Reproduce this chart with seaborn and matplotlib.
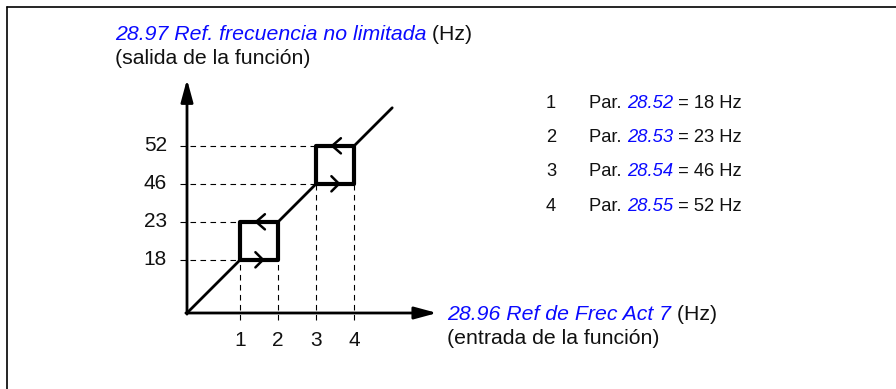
import matplotlib
matplotlib.use("Agg")
import matplotlib.pyplot as plt
import seaborn as sns
import pandas as pd
from matplotlib.lines import Line2D

# --- DATA (schematic positions: both axes share the same spacing) ---
levels = [1.4, 2.4, 3.4, 4.4]          # positions of the 4 limits on each axis
x_labels = ['1', '2', '3', '4']
y_labels = ['18', '23', '46', '52']
param_ids = ['28.52', '28.53', '28.54', '28.55']
param_hz = [18, 23, 46, 52]
curve_end = 5.4
x_axis_end = 6.58
y_axis_end = 6.15

BLUE = '#0a0aff'
W, H = 896, 389
U = 38.0                 # pixels per schematic unit
ORIGIN = (187, 313)      # pixel position of the origin (from top-left)

sns.set_theme(style="white")
plt.rcParams['font.family'] = ['Liberation Sans', 'DejaVu Sans']

fig = plt.figure(figsize=(W / 100, H / 100), dpi=100)
ax = fig.add_axes([0, 0, 1, 1])
ax.set_xlim(-ORIGIN[0] / U, (W - ORIGIN[0]) / U)
ax.set_ylim(-(H - ORIGIN[1]) / U, ORIGIN[1] / U)
ax.axis('off')


def fx(px):
    return px / W


def fy(py):
    return 1 - py / H


# frame (top and left edges only)
fig.add_artist(Line2D([fx(7), 1], [fy(7), fy(7)], color='black', lw=1.2))
fig.add_artist(Line2D([fx(7), fx(7)], [0, fy(7)], color='black', lw=1.2))

# --- dashed guide lines ---
over = 7 / U
for i, lv in enumerate(levels):
    corner = levels[0] if i < 2 else levels[2]
    ax.plot([-over, corner], [lv, lv], color='black', lw=0.8,
            linestyle=(0, (5, 4)))
    ax.plot([lv, lv], [-over, corner], color='black', lw=0.8,
            linestyle=(0, (5, 4)))

# --- diagonal parts of the curve ---
diag = pd.DataFrame({
    'x': [0, levels[0], levels[1], levels[2], levels[3], curve_end],
    'y': [0, levels[0], levels[1], levels[2], levels[3], curve_end],
    'seg': [0, 0, 1, 1, 2, 2],
})
sns.lineplot(data=diag, x='x', y='y', units='seg', estimator=None,
             sort=False, color='black', lw=2, ax=ax, legend=False)

# --- hysteresis squares ---
rows = []
for k, (a, b) in enumerate([(levels[0], levels[1]), (levels[2], levels[3])]):
    for px, py in [(a, a), (b, a), (b, b), (a, b), (a, a)]:
        rows.append({'x': px, 'y': py, 'sq': k})
squares = pd.DataFrame(rows)
sns.lineplot(data=squares, x='x', y='y', units='sq', estimator=None,
             sort=False, color='black', lw=3, ax=ax, legend=False)

# direction chevrons on the square edges
for a, b in [(levels[0], levels[1]), (levels[2], levels[3])]:
    mid = (a + b) / 2
    ax.plot([mid - 0.1, mid + 0.1, mid - 0.1], [a + 0.2, a, a - 0.2],
            color='black', lw=1.8, solid_joinstyle='miter')
    ax.plot([mid + 0.15, mid - 0.08, mid + 0.15], [b + 0.2, b, b - 0.2],
            color='black', lw=1.8, solid_joinstyle='miter')

# --- axes with arrow heads ---
arrow = dict(arrowstyle='-|>,head_length=0.85,head_width=0.23', lw=2,
             color='black', shrinkA=0, shrinkB=0, mutation_scale=16)
ax.annotate('', xy=(x_axis_end, 0), xytext=(-0.03, 0), arrowprops=arrow)
ax.annotate('', xy=(0, y_axis_end), xytext=(0, -0.03), arrowprops=arrow)

# tick labels
for lv, lab in zip(levels, x_labels):
    ax.text(lv, (ORIGIN[1] - 346) / U, lab, ha='center', va='baseline',
            fontsize=15, color='#111111')
for lv, lab in zip(levels, y_labels):
    ax.text(-(ORIGIN[0] - 167) / U, lv, lab, ha='right', va='center',
            fontsize=15, color='#111111')


def rich(x, y, parts, size):
    """parts: list of (text, color, style) placed one after another."""
    txt, col, st = parts[0]
    t = fig.text(x, y, txt, color=col, style=st, fontsize=size,
                 ha='left', va='baseline')
    for txt, col, st in parts[1:]:
        t = ax.annotate(txt, xy=(1, 0), xycoords=t, color=col, style=st,
                        fontsize=size, ha='left', va='bottom')
    return t


# axis titles
rich(fx(115), fy(39.5), [('28.97 Ref. frecuencia no limitada', BLUE, 'italic'),
                         (' (Hz)', '#111111', 'normal')], 15.3)
fig.text(fx(115), fy(64), '(salida de la función)', fontsize=15.3,
         color='#111111', va='baseline')
rich(fx(447), fy(319.5), [('28.96 Ref de Frec Act 7', BLUE, 'italic'),
                          (' (Hz)', '#111111', 'normal')], 15.3)
fig.text(fx(447), fy(344), '(entrada de la función)', fontsize=15.3,
         color='#111111', va='baseline')

# parameter list
for i, (num, pid, hz) in enumerate(zip(x_labels, param_ids, param_hz)):
    base = 108.3 + i * 34.1
    fig.text(fx(546), fy(base), num, fontsize=13.2, color='#111111',
             va='baseline')
    rich(fx(589), fy(base), [('Par. ', '#111111', 'normal'),
                             (pid, BLUE, 'italic'),
                             (f' = {hz} Hz', '#111111', 'normal')], 13.2)

fig.savefig('out.png', dpi=100, facecolor='white')
